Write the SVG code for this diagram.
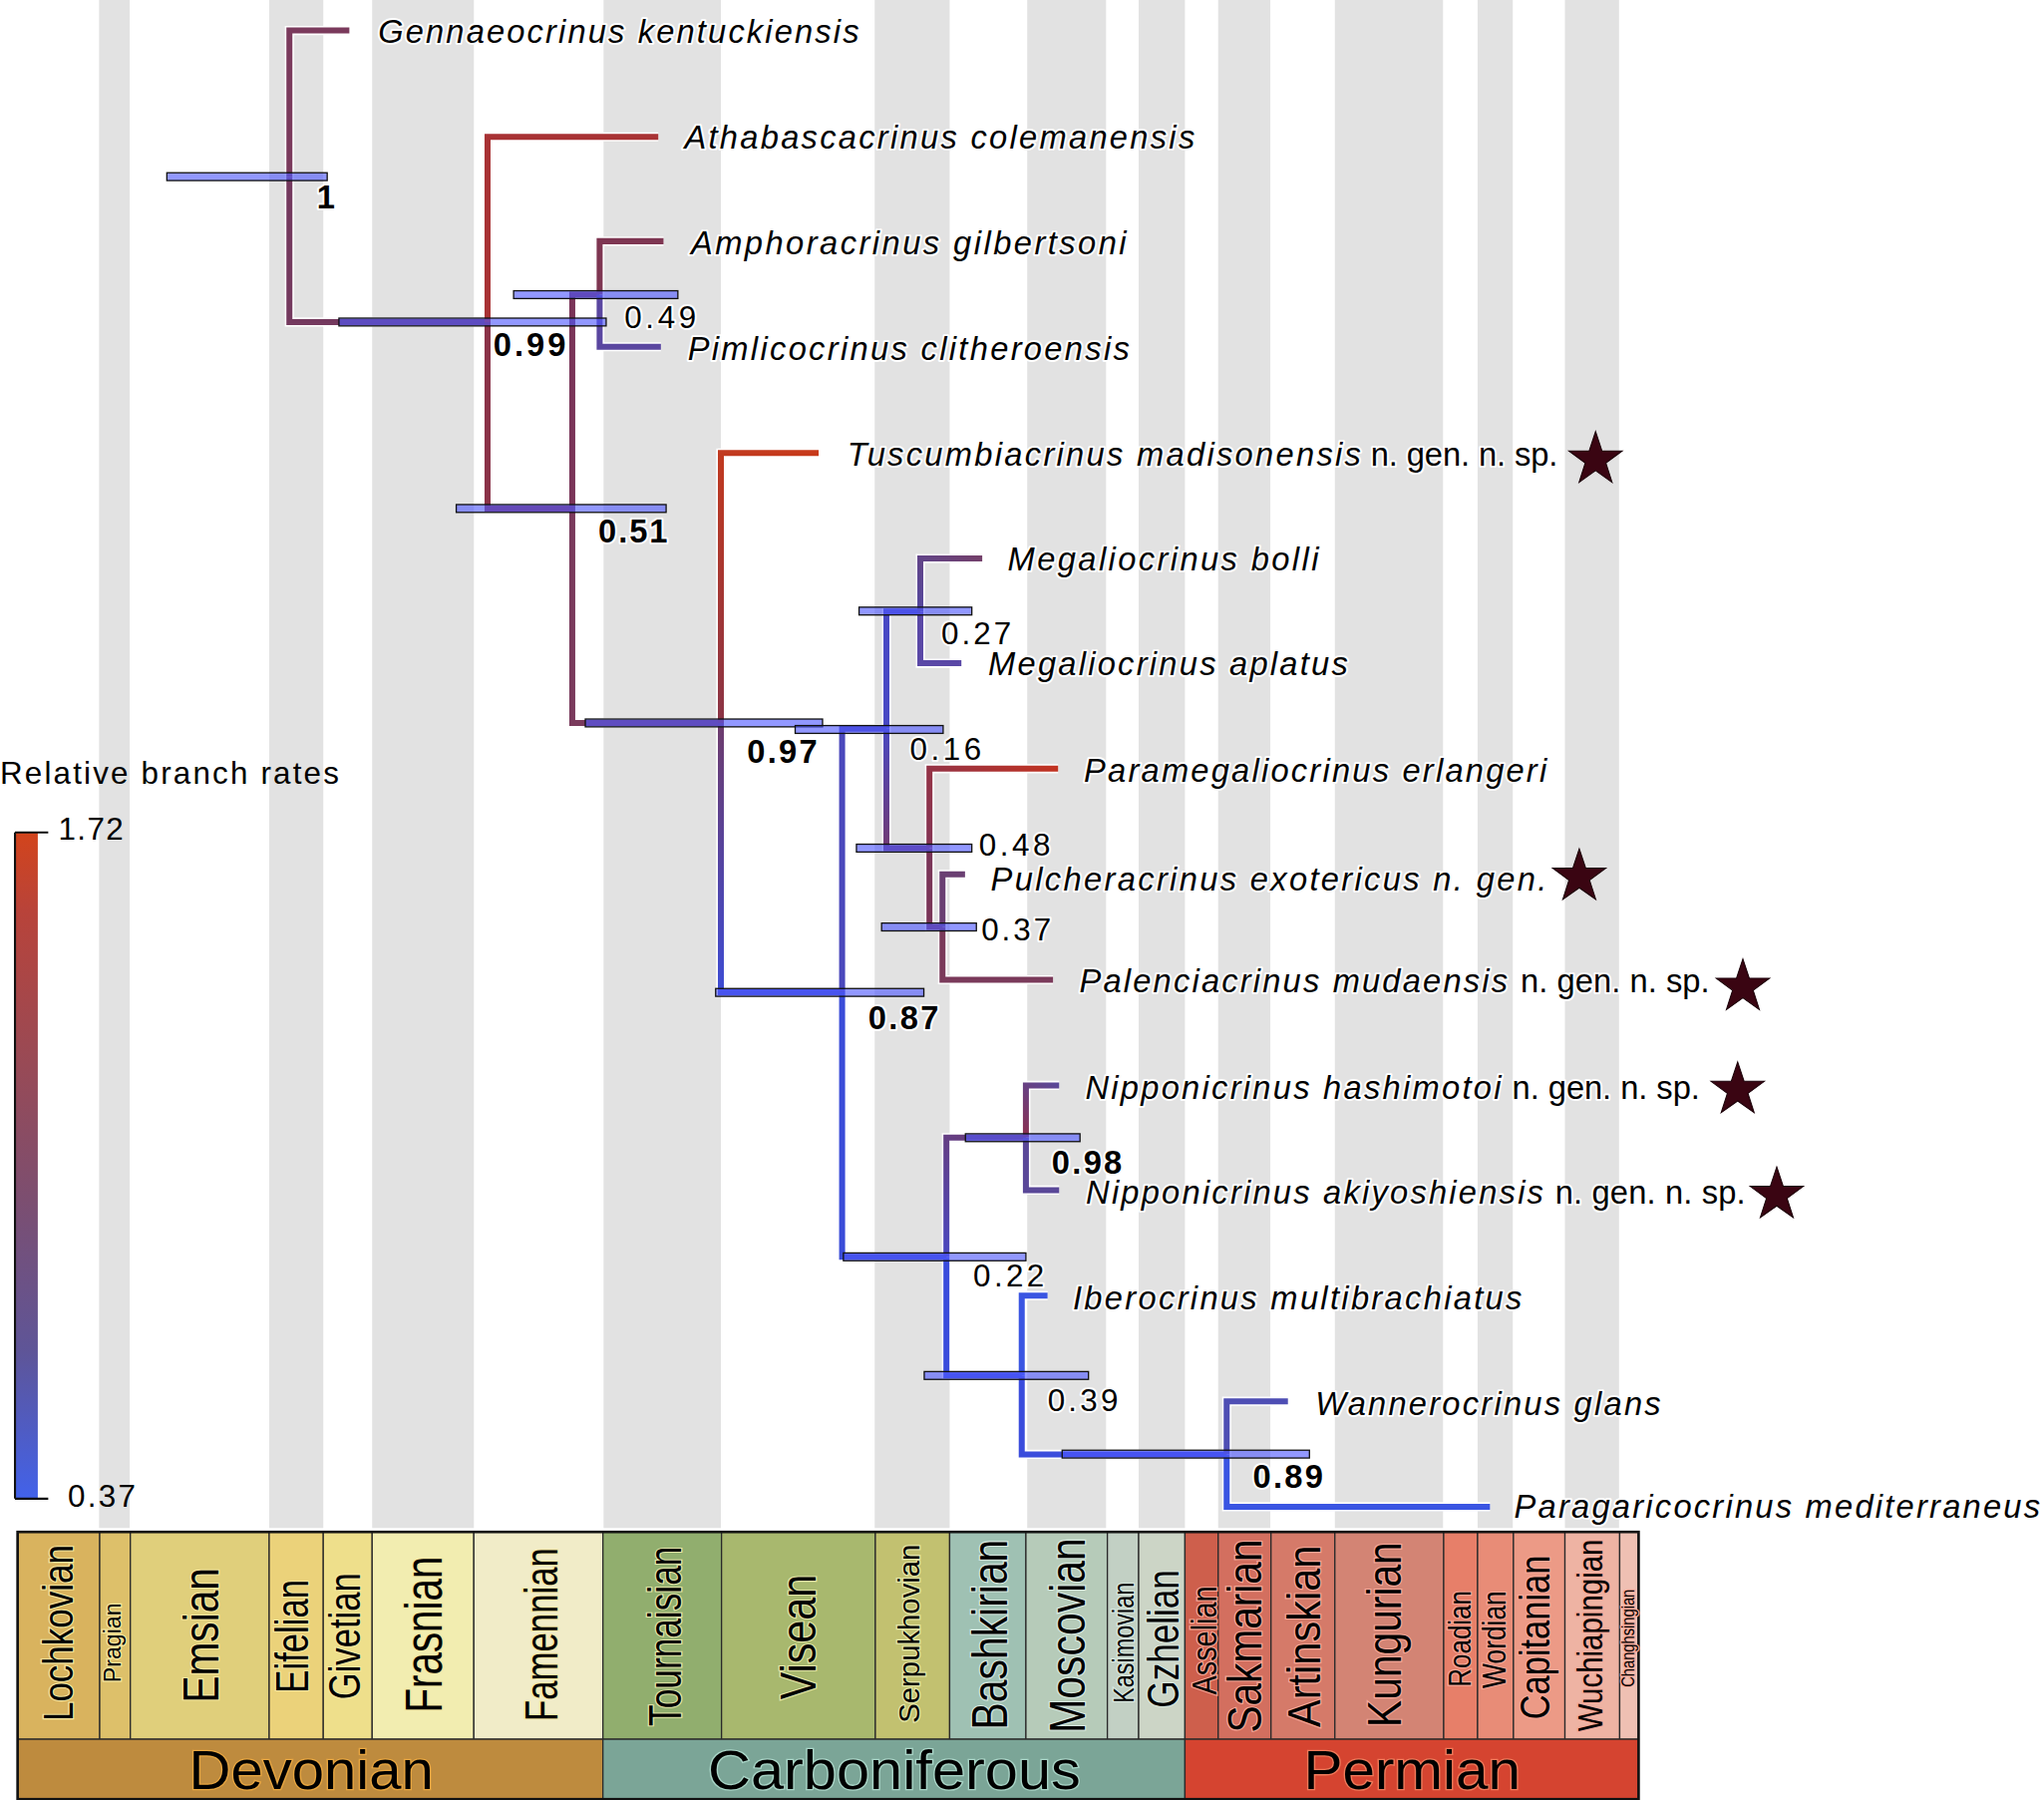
<svg xmlns="http://www.w3.org/2000/svg" xmlns:xlink="http://www.w3.org/1999/xlink" width="2050" height="1805" viewBox="0 0 2050 1805">
<style>
.tx{font-family:"Liberation Sans",Arial,sans-serif;font-style:italic;font-size:25px;fill:#000;stroke:#fff;stroke-width:3;paint-order:stroke;stroke-linejoin:round}
.sf{font-family:"Liberation Sans",Arial,sans-serif;font-size:25px;fill:#000;stroke:#fff;stroke-width:3;paint-order:stroke;stroke-linejoin:round}
.nl{font-family:"Liberation Sans",Arial,sans-serif;font-size:24px;fill:#000;stroke:#fff;stroke-width:3;paint-order:stroke;stroke-linejoin:round}
.nb{font-family:"Liberation Sans",Arial,sans-serif;font-size:25px;font-weight:bold;fill:#000;stroke:#fff;stroke-width:3;paint-order:stroke;stroke-linejoin:round}
.bar{fill:#4f58ff;fill-opacity:0.62;stroke:#111;stroke-width:1}
.star{fill:#3a0512;stroke:#1a0008;stroke-width:0.8}
.stg{font-family:"Liberation Sans",Arial,sans-serif;fill:#000;stroke-width:2;paint-order:stroke;text-anchor:middle}
.per{font-family:"Liberation Sans",Arial,sans-serif;font-size:42px;fill:#000;stroke-width:2;paint-order:stroke;text-anchor:middle}
.box{stroke:#2a2a2a;stroke-width:1}
.lg{font-family:"Liberation Sans",Arial,sans-serif;font-size:24px;fill:#000}
</style>
<defs>
<linearGradient id="rate" x1="0" y1="0" x2="0" y2="1">
<stop offset="0" stop-color="#d2441c"/>
<stop offset="0.12" stop-color="#b8433a"/>
<stop offset="0.35" stop-color="#984a56"/>
<stop offset="0.55" stop-color="#7c4e70"/>
<stop offset="0.78" stop-color="#5e5598"/>
<stop offset="1" stop-color="#4262ea"/>
</linearGradient>
<linearGradient id="g_tusc" gradientUnits="userSpaceOnUse" x1="553" y1="554" x2="628" y2="347">
<stop offset="0" stop-color="#8a3446"/><stop offset="1" stop-color="#c83a1a"/>
</linearGradient>
<linearGradient id="g_087" gradientUnits="userSpaceOnUse" x1="553" y1="554" x2="553" y2="761">
<stop offset="0" stop-color="#6e3c6c"/><stop offset="1" stop-color="#3d4cd4"/>
</linearGradient>
<linearGradient id="g_048" gradientUnits="userSpaceOnUse" x1="680" y1="559" x2="713" y2="650">
<stop offset="0" stop-color="#4a48c0"/><stop offset="1" stop-color="#76386a"/>
</linearGradient>
<linearGradient id="g_par" gradientUnits="userSpaceOnUse" x1="713" y1="650" x2="812" y2="590">
<stop offset="0" stop-color="#843454"/><stop offset="1" stop-color="#c23220"/>
</linearGradient>
<linearGradient id="g_098" gradientUnits="userSpaceOnUse" x1="726" y1="964" x2="787" y2="872">
<stop offset="0" stop-color="#4a48c0"/><stop offset="1" stop-color="#703a6a"/>
</linearGradient>
<linearGradient id="g_hash" gradientUnits="userSpaceOnUse" x1="787" y1="872" x2="812" y2="832">
<stop offset="0" stop-color="#8a3050"/><stop offset="1" stop-color="#5a4898"/>
</linearGradient>
<linearGradient id="g_bolli" gradientUnits="userSpaceOnUse" x1="706" y1="469" x2="753" y2="428">
<stop offset="0" stop-color="#54479e"/><stop offset="1" stop-color="#74406a"/>
</linearGradient>
<path id="e1" d="M222,135.5 V23.4 H268"/>
<path id="e2" d="M222,135.5 V247 H374"/>
<path id="e3" d="M374,247 V105 H505"/>
<path id="e4" d="M374,247 V390 H439"/>
<path id="e5" d="M439,390 V226 H460"/>
<path id="e6" d="M460,226 V185 H509"/>
<path id="e7" d="M460,226 V266 H507"/>
<path id="e8" d="M439,390 V554.5 H553"/>
<path id="e9" d="M553,554.5 V347.5 H628"/>
<path id="e10" d="M553,554.5 V761 H646"/>
<path id="e11" d="M646,761 V559 H680"/>
<path id="e12" d="M680,559 V469 H706"/>
<path id="e13" d="M706,469 V428.4 H753.5"/>
<path id="e14" d="M706,469 V508.7 H737.5"/>
<path id="e15" d="M680,559 V650.5 H713"/>
<path id="e16" d="M713,650.5 V589.6 H811.7"/>
<path id="e17" d="M713,650.5 V711 H723"/>
<path id="e18" d="M723,711 V670.6 H740.3"/>
<path id="e19" d="M723,711 V751.5 H807.8"/>
<path id="e20" d="M646,761 V964 H726"/>
<path id="e21" d="M726,964 V872.6 H787"/>
<path id="e22" d="M787,872.6 V832.5 H812.5"/>
<path id="e23" d="M787,872.6 V912.8 H812.5"/>
<path id="e24" d="M726,964 V1055 H783.8"/>
<path id="e25" d="M783.8,1055 V993.7 H803.6"/>
<path id="e26" d="M783.8,1055 V1115.5 H941"/>
<path id="e27" d="M941,1115.5 V1074.8 H988"/>
<path id="e28" d="M941,1115.5 V1155.7 H1143"/>
<path id="starshape" d="M0,-21.5 L4.9,-6.7 L20.45,-6.64 L7.9,2.6 L12.64,17.39 L0,8.4 L-12.64,17.39 L-7.9,2.6 L-20.45,-6.64 L-4.9,-6.7 Z"/>
</defs>
<rect x="0" y="0" width="2050" height="1805" fill="#fff"/>
<g transform="scale(1.30740)">
<g id="stripes" fill="#e2e2e2">
<rect x="76" y="0" width="23.5" height="1172"/>
<rect x="206.5" y="0" width="41.5" height="1172"/>
<rect x="285.5" y="0" width="78" height="1172"/>
<rect x="463" y="0" width="90" height="1172"/>
<rect x="671" y="0" width="57.5" height="1172"/>
<rect x="788" y="0" width="60.5" height="1172"/>
<rect x="873.5" y="0" width="35.5" height="1172"/>
<rect x="934.5" y="0" width="40" height="1172"/>
<rect x="1024" y="0" width="83" height="1172"/>
<rect x="1133.5" y="0" width="27" height="1172"/>
<rect x="1200.5" y="0" width="41.5" height="1172"/>
</g>
<g id="legend">
<text x="0" y="601" class="lg" font-size="26.5" textLength="260">Relative branch rates</text>
<rect x="11.5" y="638.5" width="17.5" height="511" fill="url(#rate)"/>
<path d="M11.5,638.5 V1149.5 M11.5,638.5 H37 M11.5,1149.5 H37" fill="none" stroke="#111" stroke-width="1.6"/>
<text x="44.7" y="644" class="lg" textLength="50">1.72</text>
<text x="52" y="1156" class="lg" textLength="52">0.37</text>
</g>
<g id="connectors" fill="none" stroke-linejoin="miter" stroke-linecap="butt">
<g stroke="#fff" stroke-width="7">
<use href="#e1"/><use href="#e2"/><use href="#e3"/><use href="#e4"/><use href="#e5"/><use href="#e6"/><use href="#e7"/><use href="#e8"/><use href="#e9"/><use href="#e10"/><use href="#e11"/><use href="#e12"/><use href="#e13"/><use href="#e14"/><use href="#e15"/><use href="#e16"/><use href="#e17"/><use href="#e18"/><use href="#e19"/><use href="#e20"/><use href="#e21"/><use href="#e22"/><use href="#e23"/><use href="#e24"/><use href="#e25"/><use href="#e26"/><use href="#e27"/><use href="#e28"/>
</g>
<g stroke-width="4.6">
<use href="#e1" stroke="#7a3a5c"/>
<use href="#e2" stroke="#74395e"/>
<use href="#e3" stroke="#a83234"/>
<use href="#e4" stroke="#8a3248"/>
<use href="#e5" stroke="#7a3458"/>
<use href="#e6" stroke="#7e3652"/>
<use href="#e7" stroke="#5a46a0"/>
<use href="#e8" stroke="#7a3a5c"/>
<use href="#e9" stroke="url(#g_tusc)"/>
<use href="#e10" stroke="url(#g_087)"/>
<use href="#e11" stroke="#4a48bc"/>
<use href="#e12" stroke="#4848c4"/>
<use href="#e13" stroke="url(#g_bolli)"/>
<use href="#e14" stroke="#5a48a6"/>
<use href="#e15" stroke="url(#g_048)"/>
<use href="#e16" stroke="url(#g_par)"/>
<use href="#e17" stroke="#7a3558"/>
<use href="#e18" stroke="#6a3f72"/>
<use href="#e19" stroke="#7a3a5a"/>
<use href="#e20" stroke="#3a4cd8"/>
<use href="#e21" stroke="url(#g_098)"/>
<use href="#e22" stroke="url(#g_hash)"/>
<use href="#e23" stroke="#5a4898"/>
<use href="#e24" stroke="#3a4cdc"/>
<use href="#e25" stroke="#3a55e2"/>
<use href="#e26" stroke="#3a4cdc"/>
<use href="#e27" stroke="#4e4eb4"/>
<use href="#e28" stroke="#3a55e2"/>
</g>
</g>
<g id="node-1"><rect class="bar" x="128" y="132.5" width="123" height="6"/><text class="nb" x="243" y="160" font-size="22" textLength="10">1</text></g>
<g id="node-099"><rect class="bar" x="260" y="244" width="205" height="6"/><text class="nb" x="378.5" y="273" textLength="55.5">0.99</text></g>
<g id="node-049"><rect class="bar" x="394" y="223" width="126" height="6"/><text class="nl" x="479" y="251.5" textLength="55">0.49</text></g>
<g id="node-051"><rect class="bar" x="350" y="387" width="161" height="6"/><text class="nb" x="459" y="416" textLength="53">0.51</text></g>
<g id="node-097"><rect class="bar" x="449" y="551.5" width="182" height="6"/><text class="nb" x="573" y="585" textLength="54">0.97</text></g>
<g id="node-016"><rect class="bar" x="610" y="556.5" width="113.5" height="6"/><text class="nl" x="698" y="582.7" textLength="54.8">0.16</text></g>
<g id="node-027"><rect class="bar" x="659" y="465.7" width="86.5" height="6"/><text class="nl" x="722" y="494" textLength="53.7">0.27</text></g>
<g id="node-048"><rect class="bar" x="657" y="647.5" width="88.5" height="6"/><text class="nl" x="751" y="656" textLength="54.8">0.48</text></g>
<g id="node-037"><rect class="bar" x="676.3" y="708" width="72.7" height="6"/><text class="nl" x="752.8" y="721.5" textLength="53.5">0.37</text></g>
<g id="node-087"><rect class="bar" x="549" y="758.2" width="159.7" height="6"/><text class="nb" x="666" y="789" textLength="54">0.87</text></g>
<g id="node-022"><rect class="bar" x="647" y="961" width="140" height="6"/><text class="nl" x="746.6" y="987" textLength="54.4">0.22</text></g>
<g id="node-098"><rect class="bar" x="740.6" y="869.6" width="87.9" height="6"/><text class="nb" x="806.8" y="900" textLength="53.9">0.98</text></g>
<g id="node-039"><rect class="bar" x="709" y="1052" width="126" height="6"/><text class="nl" x="803.6" y="1082" textLength="54.1">0.39</text></g>
<g id="node-089"><rect class="bar" x="814.8" y="1112.3" width="189.7" height="6"/><text class="nb" x="961" y="1141" textLength="54">0.89</text></g>
<g id="taxon-gennaeocrinus"><text class="tx" x="290" y="33" textLength="369">Gennaeocrinus kentuckiensis</text></g>
<g id="taxon-athabascacrinus"><text class="tx" x="525" y="114" textLength="391.5">Athabascacrinus colemanensis</text></g>
<g id="taxon-amphoracrinus"><text class="tx" x="530" y="195" textLength="334">Amphoracrinus gilbertsoni</text></g>
<g id="taxon-pimlicocrinus"><text class="tx" x="527.5" y="276.5" textLength="339">Pimlicocrinus clitheroensis</text></g>
<g id="taxon-tuscumbiacrinus"><text class="tx" x="650" y="357.5" textLength="394">Tuscumbiacrinus madisonensis</text><text class="sf" x="1051.5" y="357.5" textLength="143.5">n. gen. n. sp.</text><use href="#starshape" class="star" x="1224" y="352.5"/></g>
<g id="taxon-megaliocrinus-bolli"><text class="tx" x="773" y="437.5" textLength="238.5">Megaliocrinus bolli</text></g>
<g id="taxon-megaliocrinus-aplatus"><text class="tx" x="758" y="518" textLength="276">Megaliocrinus aplatus</text></g>
<g id="taxon-paramegaliocrinus"><text class="tx" x="831.5" y="600" textLength="355">Paramegaliocrinus erlangeri</text></g>
<g id="taxon-pulcheracrinus"><text class="tx" x="760" y="683" textLength="426.5">Pulcheracrinus exotericus n. gen.</text><use href="#starshape" class="star" x="1211.5" y="672.5"/></g>
<g id="taxon-palenciacrinus"><text class="tx" x="828" y="761" textLength="328.5">Palenciacrinus mudaensis</text><text class="sf" x="1166.5" y="761" textLength="145">n. gen. n. sp.</text><use href="#starshape" class="star" x="1337" y="757"/></g>
<g id="taxon-nipponicrinus-hashimotoi"><text class="tx" x="832.5" y="843" textLength="319">Nipponicrinus hashimotoi</text><text class="sf" x="1160" y="843" textLength="144">n. gen. n. sp.</text><use href="#starshape" class="star" x="1333" y="836"/></g>
<g id="taxon-nipponicrinus-akiyoshiensis"><text class="tx" x="833" y="923" textLength="351">Nipponicrinus akiyoshiensis</text><text class="sf" x="1193" y="923" textLength="146">n. gen. n. sp.</text><use href="#starshape" class="star" x="1363" y="916.5"/></g>
<g id="taxon-iberocrinus"><text class="tx" x="823" y="1004" textLength="344.5">Iberocrinus multibrachiatus</text></g>
<g id="taxon-wannerocrinus"><text class="tx" x="1009" y="1085" textLength="265">Wannerocrinus glans</text></g>
<g id="taxon-paragaricocrinus"><text class="tx" x="1161.5" y="1164" textLength="403.5">Paragaricocrinus mediterraneus</text></g>
<g id="timescale">
<g class="box">
<rect x="13.5" y="1175" width="63" height="159" fill="#d9b35e"/>
<rect x="76.5" y="1175" width="23.5" height="159" fill="#ddc06a"/>
<rect x="100" y="1175" width="106.5" height="159" fill="#e0cf7b"/>
<rect x="206.5" y="1175" width="41.5" height="159" fill="#ebd27a"/>
<rect x="248" y="1175" width="37.5" height="159" fill="#eedf8b"/>
<rect x="285.5" y="1175" width="78" height="159" fill="#f2edb0"/>
<rect x="363.5" y="1175" width="99" height="159" fill="#f1ecc8"/>
<rect x="462.5" y="1175" width="91" height="159" fill="#91ae6e"/>
<rect x="553.5" y="1175" width="118" height="159" fill="#a8b86e"/>
<rect x="671.5" y="1175" width="57" height="159" fill="#c2c170"/>
<rect x="728.5" y="1175" width="58.5" height="159" fill="#9fc1b3"/>
<rect x="787" y="1175" width="62.5" height="159" fill="#b6cbb9"/>
<rect x="849.5" y="1175" width="24" height="159" fill="#c2d0c4"/>
<rect x="873.5" y="1175" width="35.5" height="159" fill="#ccd5c6"/>
<rect x="909" y="1175" width="25.5" height="159" fill="#ce5f4c"/>
<rect x="934.5" y="1175" width="40.5" height="159" fill="#d36f5f"/>
<rect x="975" y="1175" width="49" height="159" fill="#d57a69"/>
<rect x="1024" y="1175" width="83.5" height="159" fill="#d38474"/>
<rect x="1107.5" y="1175" width="26" height="159" fill="#e77f69"/>
<rect x="1133.5" y="1175" width="27.5" height="159" fill="#e88c77"/>
<rect x="1161" y="1175" width="39.5" height="159" fill="#ec9a86"/>
<rect x="1200.5" y="1175" width="42" height="159" fill="#eeb3a3"/>
<rect x="1242.5" y="1175" width="14.5" height="159" fill="#efc0b3"/>
<rect x="13.5" y="1334" width="449" height="46" fill="#be8b3e"/>
<rect x="462.5" y="1334" width="446.5" height="46" fill="#7ba597"/>
<rect x="909" y="1334" width="348" height="46" fill="#d54430"/>
</g>
<rect x="13.5" y="1175" width="1243.5" height="205" fill="none" stroke="#111" stroke-width="2"/>
<g class="stg" stroke="#f5e7a0">
<text transform="translate(56,1252.5) rotate(-90)" font-size="32" textLength="135.5" lengthAdjust="spacingAndGlyphs">Lochkovian</text>
<text transform="translate(92.5,1260) rotate(-90)" font-size="19" textLength="61" lengthAdjust="spacingAndGlyphs">Pragian</text>
<text transform="translate(167.5,1254.3) rotate(-90)" font-size="38" textLength="103.5" lengthAdjust="spacingAndGlyphs">Emsian</text>
<text transform="translate(236,1255) rotate(-90)" font-size="35" textLength="87" lengthAdjust="spacingAndGlyphs">Eifelian</text>
<text transform="translate(276,1255) rotate(-90)" font-size="34" textLength="97" lengthAdjust="spacingAndGlyphs">Givetian</text>
<text transform="translate(339,1253.7) rotate(-90)" font-size="39" textLength="120" lengthAdjust="spacingAndGlyphs">Frasnian</text>
<text transform="translate(427.5,1253.7) rotate(-90)" font-size="35" textLength="133" lengthAdjust="spacingAndGlyphs">Famennian</text>
</g>
<g class="stg" stroke="#e4e6a8">
<text transform="translate(522.5,1255) rotate(-90)" font-size="36" textLength="138" lengthAdjust="spacingAndGlyphs">Tournaisian</text>
<text transform="translate(626,1255.6) rotate(-90)" font-size="38" textLength="96" lengthAdjust="spacingAndGlyphs">Visean</text>
<text transform="translate(705,1253) rotate(-90)" font-size="23" textLength="137" lengthAdjust="spacingAndGlyphs">Serpukhovian</text>
</g>
<g class="stg" stroke="#d8e8e0">
<text transform="translate(772.5,1253.7) rotate(-90)" font-size="38" textLength="146" lengthAdjust="spacingAndGlyphs">Bashkirian</text>
<text transform="translate(832.5,1254.4) rotate(-90)" font-size="38" textLength="149.6" lengthAdjust="spacingAndGlyphs">Moscovian</text>
<text transform="translate(870,1260) rotate(-90)" font-size="22" textLength="92.5" lengthAdjust="spacingAndGlyphs">Kasimovian</text>
<text transform="translate(904,1257) rotate(-90)" font-size="34" textLength="106" lengthAdjust="spacingAndGlyphs">Gzhelian</text>
</g>
<g class="stg" stroke="#f6a898">
<text transform="translate(932.8,1258.2) rotate(-90)" font-size="27" textLength="83.6" lengthAdjust="spacingAndGlyphs">Asselian</text>
<text transform="translate(967.7,1254.8) rotate(-90)" font-size="37" textLength="148.4" lengthAdjust="spacingAndGlyphs">Sakmarian</text>
<text transform="translate(1012.9,1255) rotate(-90)" font-size="36" textLength="139.5" lengthAdjust="spacingAndGlyphs">Artinskian</text>
<text transform="translate(1074.8,1253.7) rotate(-90)" font-size="36.5" textLength="142" lengthAdjust="spacingAndGlyphs">Kungurian</text>
<text transform="translate(1128.4,1257) rotate(-90)" font-size="24" textLength="74" lengthAdjust="spacingAndGlyphs">Roadian</text>
<text transform="translate(1155.2,1257.5) rotate(-90)" font-size="25" textLength="74.7" lengthAdjust="spacingAndGlyphs">Wordian</text>
<text transform="translate(1189,1255.9) rotate(-90)" font-size="32" textLength="126" lengthAdjust="spacingAndGlyphs">Capitanian</text>
<text transform="translate(1229.5,1254.3) rotate(-90)" font-size="27" textLength="147.4" lengthAdjust="spacingAndGlyphs">Wuchiapingian</text>
<text transform="translate(1253.5,1256.5) rotate(-90)" font-size="14" textLength="75" lengthAdjust="spacingAndGlyphs">Changhsingian</text>
</g>
<text class="per" x="238.75" y="1372" stroke="#e8a640" textLength="187.5" lengthAdjust="spacingAndGlyphs">Devonian</text>
<text class="per" x="686" y="1372" stroke="#a8d4c6" textLength="286" lengthAdjust="spacingAndGlyphs">Carboniferous</text>
<text class="per" x="1083.25" y="1372" stroke="#f07a5a" textLength="166.5" lengthAdjust="spacingAndGlyphs">Permian</text>
</g>
</g>
</svg>
